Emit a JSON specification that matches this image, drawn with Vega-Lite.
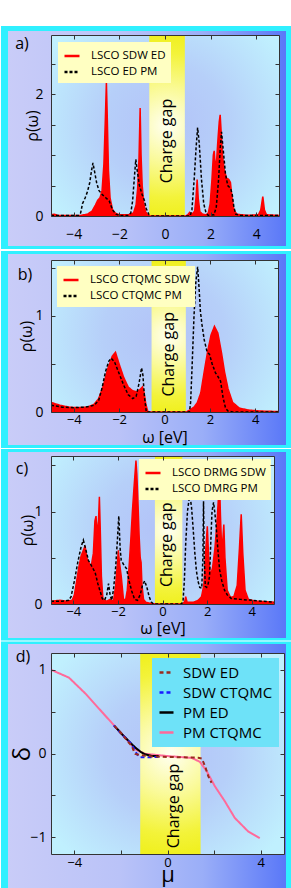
{
"$schema": "https://vega.github.io/schema/vega-lite/v6.json",
"background": "white",
"padding": 0,
"spacing": 0,
"resolve": {"scale": {"color": "independent", "strokeDash": "independent"}},
"config": {"font": "Open Sans", "view": {"stroke": null},
  "axis": {"grid": false, "domainColor": "#333333", "tickColor": "#333333", "labelColor": "#000000", "titleColor": "#000000", "titleFontWeight": "normal", "labelFlush": false, "labelOverlap": false, "tickSize": -4},
  "legend": {"labelColor": "#000000"}},
"datasets": {
 "a": [
  {"s":"LSCO SDW ED","w":-5,"r":0.02},{"s":"LSCO SDW ED","w":-4.85,"r":0.03},{"s":"LSCO SDW ED","w":-4.7,"r":0.01},{"s":"LSCO SDW ED","w":-4.2,"r":0.01},{"s":"LSCO SDW ED","w":-3.7,"r":0.01},{"s":"LSCO SDW ED","w":-3.4,"r":0.03},{"s":"LSCO SDW ED","w":-3.2,"r":0.08},{"s":"LSCO SDW ED","w":-3.05,"r":0.18},{"s":"LSCO SDW ED","w":-2.95,"r":0.26},{"s":"LSCO SDW ED","w":-2.85,"r":0.3},{"s":"LSCO SDW ED","w":-2.76,"r":0.42},{"s":"LSCO SDW ED","w":-2.68,"r":0.85},{"s":"LSCO SDW ED","w":-2.62,"r":1.55},{"s":"LSCO SDW ED","w":-2.57,"r":2.2},{"s":"LSCO SDW ED","w":-2.53,"r":1.6},{"s":"LSCO SDW ED","w":-2.48,"r":0.75},{"s":"LSCO SDW ED","w":-2.41,"r":0.3},{"s":"LSCO SDW ED","w":-2.3,"r":0.1},{"s":"LSCO SDW ED","w":-2.15,"r":0.04},{"s":"LSCO SDW ED","w":-2.0,"r":0.02},{"s":"LSCO SDW ED","w":-1.6,"r":0.02},{"s":"LSCO SDW ED","w":-1.38,"r":0.05},{"s":"LSCO SDW ED","w":-1.27,"r":0.18},{"s":"LSCO SDW ED","w":-1.2,"r":0.45},{"s":"LSCO SDW ED","w":-1.14,"r":0.95},{"s":"LSCO SDW ED","w":-1.09,"r":1.77},{"s":"LSCO SDW ED","w":-1.05,"r":1.0},{"s":"LSCO SDW ED","w":-1.0,"r":0.5},{"s":"LSCO SDW ED","w":-0.93,"r":0.2},{"s":"LSCO SDW ED","w":-0.85,"r":0.07},{"s":"LSCO SDW ED","w":-0.76,"r":0.02},{"s":"LSCO SDW ED","w":-0.68,"r":0},{"s":"LSCO SDW ED","w":0.9,"r":0},{"s":"LSCO SDW ED","w":1.0,"r":0.02},{"s":"LSCO SDW ED","w":1.08,"r":0.06},{"s":"LSCO SDW ED","w":1.18,"r":0.03},{"s":"LSCO SDW ED","w":1.3,"r":0.08},{"s":"LSCO SDW ED","w":1.36,"r":0.3},{"s":"LSCO SDW ED","w":1.41,"r":0.6},{"s":"LSCO SDW ED","w":1.46,"r":0.28},{"s":"LSCO SDW ED","w":1.53,"r":0.07},{"s":"LSCO SDW ED","w":1.65,"r":0.03},{"s":"LSCO SDW ED","w":1.8,"r":0.02},{"s":"LSCO SDW ED","w":1.9,"r":0.05},{"s":"LSCO SDW ED","w":1.98,"r":0.2},{"s":"LSCO SDW ED","w":2.06,"r":0.6},{"s":"LSCO SDW ED","w":2.12,"r":1.0},{"s":"LSCO SDW ED","w":2.16,"r":1.07},{"s":"LSCO SDW ED","w":2.21,"r":0.75},{"s":"LSCO SDW ED","w":2.27,"r":0.95},{"s":"LSCO SDW ED","w":2.33,"r":1.3},{"s":"LSCO SDW ED","w":2.38,"r":1.55},{"s":"LSCO SDW ED","w":2.42,"r":1.66},{"s":"LSCO SDW ED","w":2.46,"r":1.4},{"s":"LSCO SDW ED","w":2.52,"r":1.0},{"s":"LSCO SDW ED","w":2.6,"r":0.75},{"s":"LSCO SDW ED","w":2.7,"r":0.62},{"s":"LSCO SDW ED","w":2.8,"r":0.6},{"s":"LSCO SDW ED","w":2.87,"r":0.55},{"s":"LSCO SDW ED","w":2.94,"r":0.3},{"s":"LSCO SDW ED","w":3.02,"r":0.1},{"s":"LSCO SDW ED","w":3.15,"r":0.03},{"s":"LSCO SDW ED","w":3.6,"r":0.01},{"s":"LSCO SDW ED","w":4.1,"r":0.02},{"s":"LSCO SDW ED","w":4.2,"r":0.1},{"s":"LSCO SDW ED","w":4.29,"r":0.32},{"s":"LSCO SDW ED","w":4.36,"r":0.1},{"s":"LSCO SDW ED","w":4.45,"r":0.02},{"s":"LSCO SDW ED","w":5,"r":0.01},
  {"s":"LSCO ED PM","w":-5,"r":0.01},{"s":"LSCO ED PM","w":-3.8,"r":0.01},{"s":"LSCO ED PM","w":-3.7,"r":0.05},{"s":"LSCO ED PM","w":-3.62,"r":0.2},{"s":"LSCO ED PM","w":-3.5,"r":0.3},{"s":"LSCO ED PM","w":-3.4,"r":0.4},{"s":"LSCO ED PM","w":-3.3,"r":0.55},{"s":"LSCO ED PM","w":-3.22,"r":0.75},{"s":"LSCO ED PM","w":-3.16,"r":0.87},{"s":"LSCO ED PM","w":-3.1,"r":0.75},{"s":"LSCO ED PM","w":-3.0,"r":0.55},{"s":"LSCO ED PM","w":-2.9,"r":0.42},{"s":"LSCO ED PM","w":-2.75,"r":0.35},{"s":"LSCO ED PM","w":-2.6,"r":0.3},{"s":"LSCO ED PM","w":-2.45,"r":0.25},{"s":"LSCO ED PM","w":-2.3,"r":0.1},{"s":"LSCO ED PM","w":-2.15,"r":0.03},{"s":"LSCO ED PM","w":-2.0,"r":0.01},{"s":"LSCO ED PM","w":-1.6,"r":0.01},{"s":"LSCO ED PM","w":-1.5,"r":0.05},{"s":"LSCO ED PM","w":-1.42,"r":0.25},{"s":"LSCO ED PM","w":-1.35,"r":0.6},{"s":"LSCO ED PM","w":-1.28,"r":0.93},{"s":"LSCO ED PM","w":-1.22,"r":0.75},{"s":"LSCO ED PM","w":-1.12,"r":0.5},{"s":"LSCO ED PM","w":-1.0,"r":0.35},{"s":"LSCO ED PM","w":-0.9,"r":0.25},{"s":"LSCO ED PM","w":-0.82,"r":0.12},{"s":"LSCO ED PM","w":-0.7,"r":0.02},{"s":"LSCO ED PM","w":-0.6,"r":0},{"s":"LSCO ED PM","w":1.1,"r":0},{"s":"LSCO ED PM","w":1.18,"r":0.1},{"s":"LSCO ED PM","w":1.28,"r":0.6},{"s":"LSCO ED PM","w":1.36,"r":1.1},{"s":"LSCO ED PM","w":1.43,"r":1.45},{"s":"LSCO ED PM","w":1.5,"r":1.2},{"s":"LSCO ED PM","w":1.6,"r":0.6},{"s":"LSCO ED PM","w":1.7,"r":0.2},{"s":"LSCO ED PM","w":1.8,"r":0.05},{"s":"LSCO ED PM","w":1.9,"r":0.01},{"s":"LSCO ED PM","w":2.15,"r":0.02},{"s":"LSCO ED PM","w":2.25,"r":0.15},{"s":"LSCO ED PM","w":2.35,"r":0.6},{"s":"LSCO ED PM","w":2.42,"r":1.1},{"s":"LSCO ED PM","w":2.48,"r":1.38},{"s":"LSCO ED PM","w":2.55,"r":1.1},{"s":"LSCO ED PM","w":2.65,"r":0.7},{"s":"LSCO ED PM","w":2.75,"r":0.5},{"s":"LSCO ED PM","w":2.88,"r":0.45},{"s":"LSCO ED PM","w":2.95,"r":0.35},{"s":"LSCO ED PM","w":3.02,"r":0.15},{"s":"LSCO ED PM","w":3.1,"r":0.03},{"s":"LSCO ED PM","w":3.3,"r":0.01},{"s":"LSCO ED PM","w":5,"r":0.01}
 ],
 "b": [
  {"s":"LSCO CTQMC SDW","w":-5,"r":0.1},{"s":"LSCO CTQMC SDW","w":-4.6,"r":0.07},{"s":"LSCO CTQMC SDW","w":-4.2,"r":0.05},{"s":"LSCO CTQMC SDW","w":-3.8,"r":0.045},{"s":"LSCO CTQMC SDW","w":-3.4,"r":0.05},{"s":"LSCO CTQMC SDW","w":-3.1,"r":0.08},{"s":"LSCO CTQMC SDW","w":-2.9,"r":0.14},{"s":"LSCO CTQMC SDW","w":-2.7,"r":0.27},{"s":"LSCO CTQMC SDW","w":-2.5,"r":0.45},{"s":"LSCO CTQMC SDW","w":-2.3,"r":0.58},{"s":"LSCO CTQMC SDW","w":-2.16,"r":0.62},{"s":"LSCO CTQMC SDW","w":-2.0,"r":0.5},{"s":"LSCO CTQMC SDW","w":-1.8,"r":0.36},{"s":"LSCO CTQMC SDW","w":-1.6,"r":0.26},{"s":"LSCO CTQMC SDW","w":-1.4,"r":0.22},{"s":"LSCO CTQMC SDW","w":-1.2,"r":0.21},{"s":"LSCO CTQMC SDW","w":-1.05,"r":0.24},{"s":"LSCO CTQMC SDW","w":-0.97,"r":0.26},{"s":"LSCO CTQMC SDW","w":-0.9,"r":0.2},{"s":"LSCO CTQMC SDW","w":-0.82,"r":0.08},{"s":"LSCO CTQMC SDW","w":-0.73,"r":0},{"s":"LSCO CTQMC SDW","w":0.95,"r":0},{"s":"LSCO CTQMC SDW","w":1.1,"r":0.02},{"s":"LSCO CTQMC SDW","w":1.3,"r":0.05},{"s":"LSCO CTQMC SDW","w":1.45,"r":0.1},{"s":"LSCO CTQMC SDW","w":1.6,"r":0.2},{"s":"LSCO CTQMC SDW","w":1.75,"r":0.42},{"s":"LSCO CTQMC SDW","w":1.9,"r":0.63},{"s":"LSCO CTQMC SDW","w":2.05,"r":0.8},{"s":"LSCO CTQMC SDW","w":2.2,"r":0.89},{"s":"LSCO CTQMC SDW","w":2.35,"r":0.82},{"s":"LSCO CTQMC SDW","w":2.5,"r":0.63},{"s":"LSCO CTQMC SDW","w":2.65,"r":0.41},{"s":"LSCO CTQMC SDW","w":2.8,"r":0.24},{"s":"LSCO CTQMC SDW","w":3.0,"r":0.1},{"s":"LSCO CTQMC SDW","w":3.3,"r":0.04},{"s":"LSCO CTQMC SDW","w":3.7,"r":0.02},{"s":"LSCO CTQMC SDW","w":4.2,"r":0.01},{"s":"LSCO CTQMC SDW","w":5,"r":0.005},
  {"s":"LSCO CTQMC PM","w":-5,"r":0.07},{"s":"LSCO CTQMC PM","w":-4.5,"r":0.05},{"s":"LSCO CTQMC PM","w":-4,"r":0.045},{"s":"LSCO CTQMC PM","w":-3.5,"r":0.05},{"s":"LSCO CTQMC PM","w":-3.1,"r":0.07},{"s":"LSCO CTQMC PM","w":-2.9,"r":0.12},{"s":"LSCO CTQMC PM","w":-2.75,"r":0.25},{"s":"LSCO CTQMC PM","w":-2.6,"r":0.42},{"s":"LSCO CTQMC PM","w":-2.45,"r":0.53},{"s":"LSCO CTQMC PM","w":-2.35,"r":0.56},{"s":"LSCO CTQMC PM","w":-2.2,"r":0.52},{"s":"LSCO CTQMC PM","w":-2.0,"r":0.4},{"s":"LSCO CTQMC PM","w":-1.8,"r":0.28},{"s":"LSCO CTQMC PM","w":-1.6,"r":0.18},{"s":"LSCO CTQMC PM","w":-1.4,"r":0.14},{"s":"LSCO CTQMC PM","w":-1.25,"r":0.16},{"s":"LSCO CTQMC PM","w":-1.12,"r":0.3},{"s":"LSCO CTQMC PM","w":-1.01,"r":0.46},{"s":"LSCO CTQMC PM","w":-0.95,"r":0.38},{"s":"LSCO CTQMC PM","w":-0.88,"r":0.15},{"s":"LSCO CTQMC PM","w":-0.8,"r":0},{"s":"LSCO CTQMC PM","w":1.1,"r":0},{"s":"LSCO CTQMC PM","w":1.15,"r":0.1},{"s":"LSCO CTQMC PM","w":1.22,"r":0.5},{"s":"LSCO CTQMC PM","w":1.3,"r":1.0},{"s":"LSCO CTQMC PM","w":1.38,"r":1.35},{"s":"LSCO CTQMC PM","w":1.46,"r":1.51},{"s":"LSCO CTQMC PM","w":1.52,"r":1.3},{"s":"LSCO CTQMC PM","w":1.58,"r":1.05},{"s":"LSCO CTQMC PM","w":1.65,"r":0.91},{"s":"LSCO CTQMC PM","w":1.75,"r":0.75},{"s":"LSCO CTQMC PM","w":1.88,"r":0.62},{"s":"LSCO CTQMC PM","w":1.98,"r":0.6},{"s":"LSCO CTQMC PM","w":2.1,"r":0.5},{"s":"LSCO CTQMC PM","w":2.24,"r":0.41},{"s":"LSCO CTQMC PM","w":2.35,"r":0.37},{"s":"LSCO CTQMC PM","w":2.47,"r":0.32},{"s":"LSCO CTQMC PM","w":2.58,"r":0.15},{"s":"LSCO CTQMC PM","w":2.69,"r":0.04},{"s":"LSCO CTQMC PM","w":2.8,"r":0.01},{"s":"LSCO CTQMC PM","w":3,"r":0},{"s":"LSCO CTQMC PM","w":5,"r":0}
 ],
 "c": [
  {"s":"LSCO DRMG SDW","w":-5,"r":0.03},{"s":"LSCO DRMG SDW","w":-4.6,"r":0.04},{"s":"LSCO DRMG SDW","w":-4.3,"r":0.03},{"s":"LSCO DRMG SDW","w":-4.05,"r":0.04},{"s":"LSCO DRMG SDW","w":-3.95,"r":0.1},{"s":"LSCO DRMG SDW","w":-3.85,"r":0.25},{"s":"LSCO DRMG SDW","w":-3.75,"r":0.4},{"s":"LSCO DRMG SDW","w":-3.65,"r":0.52},{"s":"LSCO DRMG SDW","w":-3.55,"r":0.58},{"s":"LSCO DRMG SDW","w":-3.47,"r":0.63},{"s":"LSCO DRMG SDW","w":-3.4,"r":0.5},{"s":"LSCO DRMG SDW","w":-3.3,"r":0.45},{"s":"LSCO DRMG SDW","w":-3.2,"r":0.4},{"s":"LSCO DRMG SDW","w":-3.1,"r":0.55},{"s":"LSCO DRMG SDW","w":-3.03,"r":0.9},{"s":"LSCO DRMG SDW","w":-2.98,"r":0.95},{"s":"LSCO DRMG SDW","w":-2.93,"r":0.75},{"s":"LSCO DRMG SDW","w":-2.87,"r":0.9},{"s":"LSCO DRMG SDW","w":-2.83,"r":1.16},{"s":"LSCO DRMG SDW","w":-2.79,"r":0.8},{"s":"LSCO DRMG SDW","w":-2.74,"r":0.3},{"s":"LSCO DRMG SDW","w":-2.67,"r":0.05},{"s":"LSCO DRMG SDW","w":-2.5,"r":0.03},{"s":"LSCO DRMG SDW","w":-2.35,"r":0.05},{"s":"LSCO DRMG SDW","w":-2.2,"r":0.03},{"s":"LSCO DRMG SDW","w":-2.1,"r":0.2},{"s":"LSCO DRMG SDW","w":-2.02,"r":0.45},{"s":"LSCO DRMG SDW","w":-1.98,"r":0.58},{"s":"LSCO DRMG SDW","w":-1.93,"r":0.45},{"s":"LSCO DRMG SDW","w":-1.85,"r":0.3},{"s":"LSCO DRMG SDW","w":-1.75,"r":0.05},{"s":"LSCO DRMG SDW","w":-1.65,"r":0.05},{"s":"LSCO DRMG SDW","w":-1.58,"r":0.15},{"s":"LSCO DRMG SDW","w":-1.5,"r":0.4},{"s":"LSCO DRMG SDW","w":-1.42,"r":0.7},{"s":"LSCO DRMG SDW","w":-1.35,"r":1.0},{"s":"LSCO DRMG SDW","w":-1.28,"r":1.25},{"s":"LSCO DRMG SDW","w":-1.22,"r":1.45},{"s":"LSCO DRMG SDW","w":-1.19,"r":1.55},{"s":"LSCO DRMG SDW","w":-1.15,"r":1.4},{"s":"LSCO DRMG SDW","w":-1.1,"r":1.1},{"s":"LSCO DRMG SDW","w":-1.05,"r":0.75},{"s":"LSCO DRMG SDW","w":-1.0,"r":0.5},{"s":"LSCO DRMG SDW","w":-0.96,"r":0.45},{"s":"LSCO DRMG SDW","w":-0.92,"r":0.2},{"s":"LSCO DRMG SDW","w":-0.85,"r":0.05},{"s":"LSCO DRMG SDW","w":-0.75,"r":0.02},{"s":"LSCO DRMG SDW","w":-0.6,"r":0.01},{"s":"LSCO DRMG SDW","w":-0.34,"r":0},{"s":"LSCO DRMG SDW","w":0.9,"r":0},{"s":"LSCO DRMG SDW","w":1.0,"r":0.03},{"s":"LSCO DRMG SDW","w":1.04,"r":0.08},{"s":"LSCO DRMG SDW","w":1.1,"r":0.02},{"s":"LSCO DRMG SDW","w":1.4,"r":0.02},{"s":"LSCO DRMG SDW","w":1.6,"r":0.04},{"s":"LSCO DRMG SDW","w":1.75,"r":0.08},{"s":"LSCO DRMG SDW","w":1.85,"r":0.2},{"s":"LSCO DRMG SDW","w":1.93,"r":0.55},{"s":"LSCO DRMG SDW","w":2.01,"r":0.84},{"s":"LSCO DRMG SDW","w":2.07,"r":0.5},{"s":"LSCO DRMG SDW","w":2.15,"r":0.3},{"s":"LSCO DRMG SDW","w":2.25,"r":0.4},{"s":"LSCO DRMG SDW","w":2.35,"r":0.6},{"s":"LSCO DRMG SDW","w":2.45,"r":0.9},{"s":"LSCO DRMG SDW","w":2.52,"r":1.2},{"s":"LSCO DRMG SDW","w":2.56,"r":1.3},{"s":"LSCO DRMG SDW","w":2.6,"r":0.95},{"s":"LSCO DRMG SDW","w":2.66,"r":0.55},{"s":"LSCO DRMG SDW","w":2.72,"r":0.75},{"s":"LSCO DRMG SDW","w":2.75,"r":0.86},{"s":"LSCO DRMG SDW","w":2.8,"r":0.5},{"s":"LSCO DRMG SDW","w":2.9,"r":0.15},{"s":"LSCO DRMG SDW","w":3.05,"r":0.07},{"s":"LSCO DRMG SDW","w":3.2,"r":0.08},{"s":"LSCO DRMG SDW","w":3.35,"r":0.2},{"s":"LSCO DRMG SDW","w":3.45,"r":0.6},{"s":"LSCO DRMG SDW","w":3.53,"r":0.97},{"s":"LSCO DRMG SDW","w":3.6,"r":0.55},{"s":"LSCO DRMG SDW","w":3.7,"r":0.15},{"s":"LSCO DRMG SDW","w":3.85,"r":0.05},{"s":"LSCO DRMG SDW","w":4.2,"r":0.03},{"s":"LSCO DRMG SDW","w":5,"r":0.02},
  {"s":"LSCO DMRG PM","w":-5,"r":0.03},{"s":"LSCO DMRG PM","w":-4.5,"r":0.03},{"s":"LSCO DMRG PM","w":-4.2,"r":0.04},{"s":"LSCO DMRG PM","w":-4.1,"r":0.08},{"s":"LSCO DMRG PM","w":-3.95,"r":0.25},{"s":"LSCO DMRG PM","w":-3.8,"r":0.45},{"s":"LSCO DMRG PM","w":-3.65,"r":0.62},{"s":"LSCO DMRG PM","w":-3.55,"r":0.69},{"s":"LSCO DMRG PM","w":-3.45,"r":0.6},{"s":"LSCO DMRG PM","w":-3.32,"r":0.47},{"s":"LSCO DMRG PM","w":-3.2,"r":0.42},{"s":"LSCO DMRG PM","w":-3.02,"r":0.34},{"s":"LSCO DMRG PM","w":-2.9,"r":0.22},{"s":"LSCO DMRG PM","w":-2.8,"r":0.14},{"s":"LSCO DMRG PM","w":-2.7,"r":0.06},{"s":"LSCO DMRG PM","w":-2.6,"r":0.04},{"s":"LSCO DMRG PM","w":-2.5,"r":0.1},{"s":"LSCO DMRG PM","w":-2.42,"r":0.22},{"s":"LSCO DMRG PM","w":-2.35,"r":0.1},{"s":"LSCO DMRG PM","w":-2.28,"r":0.04},{"s":"LSCO DMRG PM","w":-2.2,"r":0.15},{"s":"LSCO DMRG PM","w":-2.1,"r":0.4},{"s":"LSCO DMRG PM","w":-2.02,"r":0.7},{"s":"LSCO DMRG PM","w":-1.96,"r":0.95},{"s":"LSCO DMRG PM","w":-1.9,"r":0.6},{"s":"LSCO DMRG PM","w":-1.85,"r":0.47},{"s":"LSCO DMRG PM","w":-1.75,"r":0.43},{"s":"LSCO DMRG PM","w":-1.61,"r":0.38},{"s":"LSCO DMRG PM","w":-1.5,"r":0.25},{"s":"LSCO DMRG PM","w":-1.38,"r":0.14},{"s":"LSCO DMRG PM","w":-1.25,"r":0.05},{"s":"LSCO DMRG PM","w":-1.12,"r":0.04},{"s":"LSCO DMRG PM","w":-1.0,"r":0.1},{"s":"LSCO DMRG PM","w":-0.9,"r":0.2},{"s":"LSCO DMRG PM","w":-0.8,"r":0.25},{"s":"LSCO DMRG PM","w":-0.7,"r":0.18},{"s":"LSCO DMRG PM","w":-0.6,"r":0.08},{"s":"LSCO DMRG PM","w":-0.5,"r":0.02},{"s":"LSCO DMRG PM","w":-0.4,"r":0},{"s":"LSCO DMRG PM","w":0.85,"r":0},{"s":"LSCO DMRG PM","w":0.92,"r":0.03},{"s":"LSCO DMRG PM","w":0.98,"r":0.25},{"s":"LSCO DMRG PM","w":1.04,"r":0.65},{"s":"LSCO DMRG PM","w":1.12,"r":1.0},{"s":"LSCO DMRG PM","w":1.22,"r":1.19},{"s":"LSCO DMRG PM","w":1.3,"r":1.05},{"s":"LSCO DMRG PM","w":1.37,"r":0.83},{"s":"LSCO DMRG PM","w":1.45,"r":0.55},{"s":"LSCO DMRG PM","w":1.52,"r":0.36},{"s":"LSCO DMRG PM","w":1.6,"r":0.24},{"s":"LSCO DMRG PM","w":1.67,"r":0.18},{"s":"LSCO DMRG PM","w":1.76,"r":0.17},{"s":"LSCO DMRG PM","w":1.81,"r":0.5},{"s":"LSCO DMRG PM","w":1.84,"r":1.11},{"s":"LSCO DMRG PM","w":1.87,"r":0.5},{"s":"LSCO DMRG PM","w":1.92,"r":0.19},{"s":"LSCO DMRG PM","w":1.98,"r":0.18},{"s":"LSCO DMRG PM","w":2.05,"r":0.22},{"s":"LSCO DMRG PM","w":2.11,"r":0.3},{"s":"LSCO DMRG PM","w":2.17,"r":0.7},{"s":"LSCO DMRG PM","w":2.22,"r":1.0},{"s":"LSCO DMRG PM","w":2.29,"r":1.1},{"s":"LSCO DMRG PM","w":2.35,"r":0.98},{"s":"LSCO DMRG PM","w":2.41,"r":0.83},{"s":"LSCO DMRG PM","w":2.48,"r":0.6},{"s":"LSCO DMRG PM","w":2.56,"r":0.37},{"s":"LSCO DMRG PM","w":2.66,"r":0.25},{"s":"LSCO DMRG PM","w":2.78,"r":0.15},{"s":"LSCO DMRG PM","w":2.9,"r":0.1},{"s":"LSCO DMRG PM","w":3.08,"r":0.06},{"s":"LSCO DMRG PM","w":3.5,"r":0.05},{"s":"LSCO DMRG PM","w":4.0,"r":0.04},{"s":"LSCO DMRG PM","w":4.5,"r":0.03},{"s":"LSCO DMRG PM","w":5,"r":0.02}
 ],
 "d": [
  {"s":"PM CTQMC","mu":-5,"dl":1.0},{"s":"PM CTQMC","mu":-4.23,"dl":0.906},{"s":"PM CTQMC","mu":-3.52,"dl":0.715},{"s":"PM CTQMC","mu":-2.81,"dl":0.495},{"s":"PM CTQMC","mu":-2.24,"dl":0.319},{"s":"PM CTQMC","mu":-1.81,"dl":0.188},{"s":"PM CTQMC","mu":-1.38,"dl":0.048},{"s":"PM CTQMC","mu":-0.96,"dl":-0.004},{"s":"PM CTQMC","mu":0.06,"dl":-0.032},{"s":"PM CTQMC","mu":1.04,"dl":-0.052},{"s":"PM CTQMC","mu":1.39,"dl":-0.1},{"s":"PM CTQMC","mu":1.68,"dl":-0.21},{"s":"PM CTQMC","mu":2.03,"dl":-0.39},{"s":"PM CTQMC","mu":2.46,"dl":-0.57},{"s":"PM CTQMC","mu":2.89,"dl":-0.77},{"s":"PM CTQMC","mu":3.46,"dl":-0.93},{"s":"PM CTQMC","mu":3.96,"dl":-1.01},
  {"s":"PM ED","mu":-2.28,"dl":0.33},{"s":"PM ED","mu":-1.95,"dl":0.23},{"s":"PM ED","mu":-1.6,"dl":0.13},{"s":"PM ED","mu":-1.38,"dl":0.07},{"s":"PM ED","mu":-1.15,"dl":0.02},{"s":"PM ED","mu":-0.96,"dl":-0.01},{"s":"PM ED","mu":-0.67,"dl":-0.03},{"s":"PM ED","mu":-0.38,"dl":-0.03},
  {"s":"SDW CTQMC","mu":-2.31,"dl":0.335},{"s":"SDW CTQMC","mu":-1.95,"dl":0.225},{"s":"SDW CTQMC","mu":-1.6,"dl":0.13},{"s":"SDW CTQMC","mu":-1.42,"dl":0.05},{"s":"SDW CTQMC","mu":-1.31,"dl":-0.01},{"s":"SDW CTQMC","mu":-1.17,"dl":-0.044},{"s":"SDW CTQMC","mu":-0.67,"dl":-0.044},{"s":"SDW CTQMC","mu":-0.35,"dl":-0.04},
  {"s":"SDW ED","mu":-2.28,"dl":0.33},{"s":"SDW ED","mu":-1.95,"dl":0.23},{"s":"SDW ED","mu":-1.72,"dl":0.15},{"s":"SDW ED","mu":-1.53,"dl":0.09},{"s":"SDW ED","mu":-1.45,"dl":0.03},{"s":"SDW ED","mu":-1.38,"dl":-0.005},{"s":"SDW ED","mu":-1.17,"dl":-0.02},{"s":"SDW ED","mu":-0.67,"dl":-0.035},{"s":"SDW ED","mu":0.5,"dl":-0.045},{"s":"SDW ED","mu":1.32,"dl":-0.05},{"s":"SDW ED","mu":1.47,"dl":-0.06},{"s":"SDW ED","mu":1.61,"dl":-0.15},{"s":"SDW ED","mu":1.75,"dl":-0.27},{"s":"SDW ED","mu":1.89,"dl":-0.35}
 ]
},
"vconcat": [
 {
  "width": 228, "height": 181,
  "resolve": {"scale": {"x": "independent", "y": "independent"}},
  "layer": [
   {"data": {"values": [{}]}, "mark": {"type": "rect", "fill": "white", "clip": false},
    "encoding": {"x": {"datum": -7.193, "type": "quantitative", "scale": {"domain": [-5, 5], "nice": false, "zero": false}, "axis": null}, "x2": {"datum": 5.570},
                 "y": {"datum": 3.118, "type": "quantitative", "scale": {"domain": [0, 2.97], "nice": false, "zero": false}, "axis": null}, "y2": {"datum": 3.528}}},
   {"data": {"values": [{}]}, "mark": {"type": "rect", "fill": "#30F0FF", "clip": false},
    "encoding": {"x": {"datum": -7.193, "type": "quantitative", "scale": {"domain": [-5, 5], "nice": false, "zero": false}, "axis": null}, "x2": {"datum": 5.570},
                 "y": {"datum": -0.5415, "type": "quantitative", "scale": {"domain": [0, 2.97], "nice": false, "zero": false}, "axis": null}, "y2": {"datum": 3.118}}},
   {"data": {"values": [{}]}, "mark": {"type": "rect", "clip": false, "fill": {"gradient": "linear", "x1": 0, "y1": 0, "x2": 1, "y2": 0, "stops": [{"offset": 0, "color": "#C9CCF8"}, {"offset": 0.4, "color": "#BAC3F8"}, {"offset": 0.7, "color": "#9AAEF8"}, {"offset": 1, "color": "#5A78F8"}]}},
    "encoding": {"x": {"datum": -6.886, "type": "quantitative", "scale": {"domain": [-5, 5], "nice": false, "zero": false},
                       "axis": {"orient": "bottom", "values": [-4, -2, 0, 2, 4], "format": "~g", "title": null, "labelPadding": 15, "labelFontSize": 14, "zindex": 1}}, "x2": {"datum": 5.307},
                 "y": {"datum": -0.4923, "type": "quantitative", "scale": {"domain": [0, 2.97], "nice": false, "zero": false},
                       "axis": {"orient": "left", "values": [0, 0.5, 1, 1.5, 2, 2.5], "format": "~g", "labelExpr": "datum.value == 0 || datum.value == 2 ? datum.label : ''", "title": "ρ(ω)", "titleFontSize": 16, "titlePadding": -6, "labelPadding": 12, "labelFontSize": 14, "zindex": 1}}, "y2": {"datum": 3.036}}},
   {"data": {"values": [{}]}, "mark": {"type": "rect", "clip": false, "fill": {"gradient": "radial", "x1": 0.5, "y1": 0.5, "r1": 0, "x2": 0.5, "y2": 0.5, "r2": 0.6, "stops": [{"offset": 0, "color": "#B2C2F8"}, {"offset": 0.45, "color": "#B6CFF9"}, {"offset": 1, "color": "#C0F0FE"}]}},
    "encoding": {"x": {"datum": -5, "type": "quantitative", "scale": {"domain": [-5, 5], "nice": false, "zero": false},
                       "axis": {"orient": "top", "values": [-4, -2, 0, 2, 4], "labels": false, "title": null, "zindex": 1}}, "x2": {"datum": 5},
                 "y": {"datum": 0, "type": "quantitative", "scale": {"domain": [0, 2.97], "nice": false, "zero": false},
                       "axis": {"orient": "right", "values": [0.5, 1, 1.5, 2, 2.5], "labels": false, "title": null, "zindex": 1}}, "y2": {"datum": 2.97}}},
   {"data": {"values": [{}]}, "mark": {"type": "rect", "clip": false, "fill": {"gradient": "radial", "x1": 0.5, "y1": 0.5, "r1": 0, "x2": 0.5, "y2": 0.5, "r2": 0.5, "stops": [{"offset": 0, "color": "#FFFFF2"}, {"offset": 0.4, "color": "#FAFA9A"}, {"offset": 0.8, "color": "#F3F33A"}, {"offset": 1, "color": "#F0F020"}]}},
    "encoding": {"x": {"datum": -0.69, "type": "quantitative", "scale": {"domain": [-5, 5], "nice": false, "zero": false}, "axis": null}, "x2": {"datum": 0.87},
                 "y": {"datum": 0, "type": "quantitative", "scale": {"domain": [0, 2.97], "nice": false, "zero": false}, "axis": null}, "y2": {"datum": 2.97}}},
   {"data": {"values": [{}]}, "mark": {"type": "text", "text": "Charge gap", "angle": 270, "fontSize": 16, "align": "center", "baseline": "middle", "color": "black", "clip": false},
    "encoding": {"x": {"datum": 0.1, "type": "quantitative", "scale": {"domain": [-5, 5], "nice": false, "zero": false}, "axis": null},
                 "y": {"datum": 1.23, "type": "quantitative", "scale": {"domain": [0, 2.97], "nice": false, "zero": false}, "axis": null}}},
   {"data": {"values": [{}]}, "mark": {"type": "text", "text": "a)", "fontSize": 16, "align": "center", "baseline": "middle", "color": "black", "clip": false},
    "encoding": {"x": {"datum": -6.272, "type": "quantitative", "scale": {"domain": [-5, 5], "nice": false, "zero": false}, "axis": null},
                 "y": {"datum": 2.822, "type": "quantitative", "scale": {"domain": [0, 2.97], "nice": false, "zero": false}, "axis": null}}},
   {"data": {"name": "a"}, "transform": [{"filter": "datum.s == 'LSCO SDW ED'"}], "mark": {"type": "area", "color": "#FF0000", "clip": true},
    "encoding": {"x": {"field": "w", "type": "quantitative", "scale": {"domain": [-5, 5], "nice": false, "zero": false}, "axis": null},
                 "y": {"field": "r", "type": "quantitative", "scale": {"domain": [0, 2.97], "nice": false, "zero": false}, "axis": null}}},
   {"data": {"name": "a"}, "mark": {"type": "line", "strokeWidth": 1.5, "clip": true},
    "encoding": {"x": {"field": "w", "type": "quantitative", "scale": {"domain": [-5, 5], "nice": false, "zero": false}, "axis": null},
                 "y": {"field": "r", "type": "quantitative", "scale": {"domain": [0, 2.97], "nice": false, "zero": false}, "axis": null},
                 "color": {"field": "s", "type": "nominal", "scale": {"domain": ["LSCO SDW ED", "LSCO ED PM"], "range": ["#FF0000", "#000000"]},
                           "legend": {"title": null, "orient": "top-left", "offset": 7, "fillColor": "#FFFFC2", "padding": 5, "symbolType": "stroke", "symbolSize": 225, "symbolStrokeWidth": 2.5, "labelFontSize": 11.5, "rowPadding": 1, "labelOffset": 10}},
                 "strokeDash": {"field": "s", "type": "nominal", "scale": {"domain": ["LSCO SDW ED", "LSCO ED PM"], "range": [[1, 0], [3, 2]]},
                           "legend": {"title": null, "orient": "top-left", "offset": 7, "fillColor": "#FFFFC2", "padding": 5, "symbolType": "stroke", "symbolSize": 225, "symbolStrokeWidth": 2.5, "labelFontSize": 11.5, "rowPadding": 1, "labelOffset": 10}}}}
  ]
 },
 {
  "width": 227, "height": 152,
  "resolve": {"scale": {"x": "independent", "y": "independent"}},
  "layer": [
   {"data": {"values": [{}]}, "mark": {"type": "rect", "fill": "#30F0FF", "clip": false},
    "encoding": {"x": {"datum": -7.2026, "type": "quantitative", "scale": {"domain": [-5, 5], "nice": false, "zero": false}, "axis": null}, "x2": {"datum": 5.6167},
                 "y": {"datum": -0.3742, "type": "quantitative", "scale": {"domain": [0, 1.58], "nice": false, "zero": false}, "axis": null}, "y2": {"datum": 1.6736}}},
   {"data": {"values": [{}]}, "mark": {"type": "rect", "clip": false, "fill": {"gradient": "linear", "x1": 0, "y1": 0, "x2": 1, "y2": 0, "stops": [{"offset": 0, "color": "#C9CCF8"}, {"offset": 0.4, "color": "#BAC3F8"}, {"offset": 0.7, "color": "#9AAEF8"}, {"offset": 1, "color": "#5A78F8"}]}},
    "encoding": {"x": {"datum": -6.8943, "type": "quantitative", "scale": {"domain": [-5, 5], "nice": false, "zero": false},
                       "axis": {"orient": "bottom", "values": [-4, -2, 0, 2, 4], "format": "~g", "title": "ω [eV]", "titleFontSize": 16, "titlePadding": 3, "labelPadding": 5, "labelFontSize": 13, "zindex": 1}}, "x2": {"datum": 5.3524},
                 "y": {"datum": -0.3430, "type": "quantitative", "scale": {"domain": [0, 1.58], "nice": false, "zero": false},
                       "axis": {"orient": "left", "values": [0, 0.5, 1, 1.5], "format": "~g", "labelExpr": "datum.value == 0 || datum.value == 1 ? datum.label : ''", "title": "ρ(ω)", "titleFontSize": 16, "titlePadding": 0, "labelPadding": 12, "labelFontSize": 14, "zindex": 1}}, "y2": {"datum": 1.6424}}},
   {"data": {"values": [{}]}, "mark": {"type": "rect", "clip": false, "fill": {"gradient": "radial", "x1": 0.5, "y1": 0.5, "r1": 0, "x2": 0.5, "y2": 0.5, "r2": 0.6, "stops": [{"offset": 0, "color": "#B2C2F8"}, {"offset": 0.45, "color": "#B6CFF9"}, {"offset": 1, "color": "#C0F0FE"}]}},
    "encoding": {"x": {"datum": -5, "type": "quantitative", "scale": {"domain": [-5, 5], "nice": false, "zero": false},
                       "axis": {"orient": "top", "values": [-4, -2, 0, 2, 4], "labels": false, "title": null, "zindex": 1}}, "x2": {"datum": 5},
                 "y": {"datum": 0, "type": "quantitative", "scale": {"domain": [0, 1.58], "nice": false, "zero": false},
                       "axis": {"orient": "right", "values": [0.5, 1, 1.5], "labels": false, "title": null, "zindex": 1}}, "y2": {"datum": 1.58}}},
   {"data": {"values": [{}]}, "mark": {"type": "rect", "clip": false, "fill": {"gradient": "radial", "x1": 0.5, "y1": 0.5, "r1": 0, "x2": 0.5, "y2": 0.5, "r2": 0.5, "stops": [{"offset": 0, "color": "#FFFFF2"}, {"offset": 0.4, "color": "#FAFA9A"}, {"offset": 0.8, "color": "#F3F33A"}, {"offset": 1, "color": "#F0F020"}]}},
    "encoding": {"x": {"datum": -0.57, "type": "quantitative", "scale": {"domain": [-5, 5], "nice": false, "zero": false}, "axis": null}, "x2": {"datum": 0.94},
                 "y": {"datum": 0, "type": "quantitative", "scale": {"domain": [0, 1.58], "nice": false, "zero": false}, "axis": null}, "y2": {"datum": 1.58}}},
   {"data": {"values": [{}]}, "mark": {"type": "text", "text": "Charge gap", "angle": 270, "fontSize": 16, "align": "center", "baseline": "middle", "color": "black", "clip": false},
    "encoding": {"x": {"datum": 0.19, "type": "quantitative", "scale": {"domain": [-5, 5], "nice": false, "zero": false}, "axis": null},
                 "y": {"datum": 0.6, "type": "quantitative", "scale": {"domain": [0, 1.58], "nice": false, "zero": false}, "axis": null}}},
   {"data": {"values": [{}]}, "mark": {"type": "text", "text": "b)", "fontSize": 16, "align": "center", "baseline": "middle", "color": "black", "clip": false},
    "encoding": {"x": {"datum": -6.145, "type": "quantitative", "scale": {"domain": [-5, 5], "nice": false, "zero": false}, "axis": null},
                 "y": {"datum": 1.427, "type": "quantitative", "scale": {"domain": [0, 1.58], "nice": false, "zero": false}, "axis": null}}},
   {"data": {"name": "b"}, "transform": [{"filter": "datum.s == 'LSCO CTQMC SDW'"}], "mark": {"type": "area", "color": "#FF0000", "clip": true},
    "encoding": {"x": {"field": "w", "type": "quantitative", "scale": {"domain": [-5, 5], "nice": false, "zero": false}, "axis": null},
                 "y": {"field": "r", "type": "quantitative", "scale": {"domain": [0, 1.58], "nice": false, "zero": false}, "axis": null}}},
   {"data": {"name": "b"}, "mark": {"type": "line", "strokeWidth": 1.5, "clip": true},
    "encoding": {"x": {"field": "w", "type": "quantitative", "scale": {"domain": [-5, 5], "nice": false, "zero": false}, "axis": null},
                 "y": {"field": "r", "type": "quantitative", "scale": {"domain": [0, 1.58], "nice": false, "zero": false}, "axis": null},
                 "color": {"field": "s", "type": "nominal", "scale": {"domain": ["LSCO CTQMC SDW", "LSCO CTQMC PM"], "range": ["#FF0000", "#000000"]},
                           "legend": {"title": null, "orient": "top-left", "offset": 6, "fillColor": "#FFFFC2", "padding": 5, "symbolType": "stroke", "symbolSize": 225, "symbolStrokeWidth": 2.5, "labelFontSize": 11.5, "rowPadding": 1, "labelOffset": 10}},
                 "strokeDash": {"field": "s", "type": "nominal", "scale": {"domain": ["LSCO CTQMC SDW", "LSCO CTQMC PM"], "range": [[1, 0], [3, 2]]},
                           "legend": {"title": null, "orient": "top-left", "offset": 6, "fillColor": "#FFFFC2", "padding": 5, "symbolType": "stroke", "symbolSize": 225, "symbolStrokeWidth": 2.5, "labelFontSize": 11.5, "rowPadding": 1, "labelOffset": 10}}}}
  ]
 },
 {
  "width": 223, "height": 148,
  "resolve": {"scale": {"x": "independent", "y": "independent"}},
  "layer": [
   {"data": {"values": [{}]}, "mark": {"type": "rect", "fill": "#30F0FF", "clip": false},
    "encoding": {"x": {"datum": -7.2422, "type": "quantitative", "scale": {"domain": [-5, 5], "nice": false, "zero": false}, "axis": null}, "x2": {"datum": 5.8072},
                 "y": {"datum": -0.3946, "type": "quantitative", "scale": {"domain": [0, 1.6], "nice": false, "zero": false}, "axis": null}, "y2": {"datum": 1.6757}}},
   {"data": {"values": [{}]}, "mark": {"type": "rect", "clip": false, "fill": {"gradient": "linear", "x1": 0, "y1": 0, "x2": 1, "y2": 0, "stops": [{"offset": 0, "color": "#C9CCF8"}, {"offset": 0.4, "color": "#BAC3F8"}, {"offset": 0.7, "color": "#9AAEF8"}, {"offset": 1, "color": "#5A78F8"}]}},
    "encoding": {"x": {"datum": -6.9283, "type": "quantitative", "scale": {"domain": [-5, 5], "nice": false, "zero": false},
                       "axis": {"orient": "bottom", "values": [-4, -2, 0, 2, 4], "format": "~g", "title": "ω [eV]", "titleFontSize": 16, "titlePadding": 2, "labelPadding": 5, "labelFontSize": 13, "zindex": 1}}, "x2": {"datum": 5.5381},
                 "y": {"datum": -0.3676, "type": "quantitative", "scale": {"domain": [0, 1.6], "nice": false, "zero": false},
                       "axis": {"orient": "left", "values": [0, 0.5, 1, 1.5], "format": "~g", "labelExpr": "datum.value == 0 || datum.value == 1 ? datum.label : ''", "title": "ρ(ω)", "titleFontSize": 16, "titlePadding": -2, "labelPadding": 13, "labelFontSize": 14, "zindex": 1}}, "y2": {"datum": 1.6432}}},
   {"data": {"values": [{}]}, "mark": {"type": "rect", "clip": false, "fill": {"gradient": "radial", "x1": 0.5, "y1": 0.5, "r1": 0, "x2": 0.5, "y2": 0.5, "r2": 0.6, "stops": [{"offset": 0, "color": "#B2C2F8"}, {"offset": 0.45, "color": "#B6CFF9"}, {"offset": 1, "color": "#C0F0FE"}]}},
    "encoding": {"x": {"datum": -5, "type": "quantitative", "scale": {"domain": [-5, 5], "nice": false, "zero": false},
                       "axis": {"orient": "top", "values": [-4, -2, 0, 2, 4], "labels": false, "title": null, "zindex": 1}}, "x2": {"datum": 5},
                 "y": {"datum": 0, "type": "quantitative", "scale": {"domain": [0, 1.6], "nice": false, "zero": false},
                       "axis": {"orient": "right", "values": [0.5, 1, 1.5], "labels": false, "title": null, "zindex": 1}}, "y2": {"datum": 1.6}}},
   {"data": {"values": [{}]}, "mark": {"type": "rect", "clip": false, "fill": {"gradient": "radial", "x1": 0.5, "y1": 0.5, "r1": 0, "x2": 0.5, "y2": 0.5, "r2": 0.5, "stops": [{"offset": 0, "color": "#FFFFF2"}, {"offset": 0.4, "color": "#FAFA9A"}, {"offset": 0.8, "color": "#F3F33A"}, {"offset": 1, "color": "#F0F020"}]}},
    "encoding": {"x": {"datum": -0.34, "type": "quantitative", "scale": {"domain": [-5, 5], "nice": false, "zero": false}, "axis": null}, "x2": {"datum": 0.89},
                 "y": {"datum": 0, "type": "quantitative", "scale": {"domain": [0, 1.6], "nice": false, "zero": false}, "axis": null}, "y2": {"datum": 1.6}}},
   {"data": {"values": [{}]}, "mark": {"type": "text", "text": "Charge gap", "angle": 270, "fontSize": 16, "align": "center", "baseline": "middle", "color": "black", "clip": false},
    "encoding": {"x": {"datum": 0.2, "type": "quantitative", "scale": {"domain": [-5, 5], "nice": false, "zero": false}, "axis": null},
                 "y": {"datum": 0.64, "type": "quantitative", "scale": {"domain": [0, 1.6], "nice": false, "zero": false}, "axis": null}}},
   {"data": {"values": [{}]}, "mark": {"type": "text", "text": "c)", "fontSize": 16, "align": "center", "baseline": "middle", "color": "black", "clip": false},
    "encoding": {"x": {"datum": -6.3, "type": "quantitative", "scale": {"domain": [-5, 5], "nice": false, "zero": false}, "axis": null},
                 "y": {"datum": 1.459, "type": "quantitative", "scale": {"domain": [0, 1.6], "nice": false, "zero": false}, "axis": null}}},
   {"data": {"name": "c"}, "transform": [{"filter": "datum.s == 'LSCO DRMG SDW'"}], "mark": {"type": "area", "color": "#FF0000", "clip": true},
    "encoding": {"x": {"field": "w", "type": "quantitative", "scale": {"domain": [-5, 5], "nice": false, "zero": false}, "axis": null},
                 "y": {"field": "r", "type": "quantitative", "scale": {"domain": [0, 1.6], "nice": false, "zero": false}, "axis": null}}},
   {"data": {"name": "c"}, "mark": {"type": "line", "strokeWidth": 1.5, "clip": true},
    "encoding": {"x": {"field": "w", "type": "quantitative", "scale": {"domain": [-5, 5], "nice": false, "zero": false}, "axis": null},
                 "y": {"field": "r", "type": "quantitative", "scale": {"domain": [0, 1.6], "nice": false, "zero": false}, "axis": null},
                 "color": {"field": "s", "type": "nominal", "scale": {"domain": ["LSCO DRMG SDW", "LSCO DMRG PM"], "range": ["#FF0000", "#000000"]},
                           "legend": {"title": null, "orient": "top-right", "offset": 3, "fillColor": "#FFFFC2", "padding": 5, "symbolType": "stroke", "symbolSize": 225, "symbolStrokeWidth": 2.5, "labelFontSize": 11.5, "rowPadding": 1, "labelOffset": 10}},
                 "strokeDash": {"field": "s", "type": "nominal", "scale": {"domain": ["LSCO DRMG SDW", "LSCO DMRG PM"], "range": [[1, 0], [3, 2]]},
                           "legend": {"title": null, "orient": "top-right", "offset": 3, "fillColor": "#FFFFC2", "padding": 5, "symbolType": "stroke", "symbolSize": 225, "symbolStrokeWidth": 2.5, "labelFontSize": 11.5, "rowPadding": 1, "labelOffset": 10}}}}
  ]
 },
 {
  "width": 233, "height": 201,
  "resolve": {"scale": {"x": "independent", "y": "independent"}},
  "layer": [
   {"data": {"values": [{}]}, "mark": {"type": "rect", "fill": "#30F0FF", "clip": false},
    "encoding": {"x": {"datum": -7.1459, "type": "quantitative", "scale": {"domain": [-5, 5], "nice": false, "zero": false}, "axis": null}, "x2": {"datum": 5.3433},
                 "y": {"datum": -1.6657, "type": "quantitative", "scale": {"domain": [-1.2, 1.2], "nice": false, "zero": false}, "axis": null}, "y2": {"datum": 1.3373}}},
   {"data": {"values": [{}]}, "mark": {"type": "rect", "clip": false, "fill": {"gradient": "linear", "x1": 0, "y1": 0, "x2": 1, "y2": 0, "stops": [{"offset": 0, "color": "#C9CCF8"}, {"offset": 0.4, "color": "#BAC3F8"}, {"offset": 0.7, "color": "#9AAEF8"}, {"offset": 1, "color": "#5A78F8"}]}},
    "encoding": {"x": {"datum": -6.8455, "type": "quantitative", "scale": {"domain": [-5, 5], "nice": false, "zero": false},
                       "axis": {"orient": "bottom", "values": [-4, -2, 0, 2, 4], "format": "~g", "labelExpr": "abs(datum.value) % 4 == 0 ? datum.label : ''", "title": "μ", "titleFontSize": 22, "titlePadding": -5, "labelPadding": 6, "labelFontSize": 13, "zindex": 1}}, "x2": {"datum": 5.0858},
                 "y": {"datum": -1.6060, "type": "quantitative", "scale": {"domain": [-1.2, 1.2], "nice": false, "zero": false},
                       "axis": {"orient": "left", "values": [-1, -0.5, 0, 0.5, 1], "format": "~g", "labelExpr": "abs(datum.value) % 1 == 0 ? datum.label : ''", "title": "δ", "titleFontSize": 24, "titlePadding": -5, "labelPadding": 9, "labelFontSize": 14, "zindex": 1}}, "y2": {"datum": 1.3075}}},
   {"data": {"values": [{}]}, "mark": {"type": "rect", "clip": false, "fill": {"gradient": "radial", "x1": 0.5, "y1": 0.5, "r1": 0, "x2": 0.5, "y2": 0.5, "r2": 0.6, "stops": [{"offset": 0, "color": "#B2C2F8"}, {"offset": 0.45, "color": "#B6CFF9"}, {"offset": 1, "color": "#C0F0FE"}]}},
    "encoding": {"x": {"datum": -5, "type": "quantitative", "scale": {"domain": [-5, 5], "nice": false, "zero": false},
                       "axis": {"orient": "top", "values": [-4, -2, 0, 2, 4], "labels": false, "title": null, "zindex": 1}}, "x2": {"datum": 5},
                 "y": {"datum": -1.2, "type": "quantitative", "scale": {"domain": [-1.2, 1.2], "nice": false, "zero": false},
                       "axis": {"orient": "right", "values": [-1, -0.5, 0, 0.5, 1], "labels": false, "title": null, "zindex": 1}}, "y2": {"datum": 1.2}}},
   {"data": {"values": [{}]}, "mark": {"type": "rect", "clip": false, "fill": {"gradient": "radial", "x1": 0.5, "y1": 0.5, "r1": 0, "x2": 0.5, "y2": 0.5, "r2": 0.5, "stops": [{"offset": 0, "color": "#FFFFF2"}, {"offset": 0.4, "color": "#FAFA9A"}, {"offset": 0.8, "color": "#F3F33A"}, {"offset": 1, "color": "#F0F020"}]}},
    "encoding": {"x": {"datum": -1.17, "type": "quantitative", "scale": {"domain": [-5, 5], "nice": false, "zero": false}, "axis": null}, "x2": {"datum": 1.42},
                 "y": {"datum": -1.2, "type": "quantitative", "scale": {"domain": [-1.2, 1.2], "nice": false, "zero": false}, "axis": null}, "y2": {"datum": 1.2}}},
   {"data": {"values": [{}]}, "mark": {"type": "text", "text": "Charge gap", "angle": 270, "fontSize": 16, "align": "center", "baseline": "middle", "color": "black", "clip": false},
    "encoding": {"x": {"datum": 0.28, "type": "quantitative", "scale": {"domain": [-5, 5], "nice": false, "zero": false}, "axis": null},
                 "y": {"datum": -0.627, "type": "quantitative", "scale": {"domain": [-1.2, 1.2], "nice": false, "zero": false}, "axis": null}}},
   {"data": {"values": [{}]}, "mark": {"type": "text", "text": "d)", "fontSize": 16, "align": "center", "baseline": "middle", "color": "black", "clip": false},
    "encoding": {"x": {"datum": -6.202, "type": "quantitative", "scale": {"domain": [-5, 5], "nice": false, "zero": false}, "axis": null},
                 "y": {"datum": 1.152, "type": "quantitative", "scale": {"domain": [-1.2, 1.2], "nice": false, "zero": false}, "axis": null}}},
   {"data": {"name": "d"}, "mark": {"type": "line", "strokeWidth": 2, "clip": true},
    "encoding": {"x": {"field": "mu", "type": "quantitative", "scale": {"domain": [-5, 5], "nice": false, "zero": false}, "axis": null},
                 "y": {"field": "dl", "type": "quantitative", "scale": {"domain": [-1.2, 1.2], "nice": false, "zero": false}, "axis": null},
                 "color": {"field": "s", "type": "nominal", "scale": {"domain": ["SDW ED", "SDW CTQMC", "PM ED", "PM CTQMC"], "range": ["#9A2A1E", "#1A1AFF", "#000000", "#FF6A9A"]},
                           "legend": {"title": null, "orient": "top-right", "offset": 5, "fillColor": "#6EE2F8", "padding": 6, "symbolType": "stroke", "symbolSize": 196, "symbolStrokeWidth": 2.5, "labelFontSize": 15, "rowPadding": 3, "labelOffset": 8}},
                 "strokeDash": {"field": "s", "type": "nominal", "scale": {"domain": ["SDW ED", "SDW CTQMC", "PM ED", "PM CTQMC"], "range": [[4, 3], [4, 3], [1, 0], [1, 0]]},
                           "legend": {"title": null, "orient": "top-right", "offset": 5, "fillColor": "#6EE2F8", "padding": 6, "symbolType": "stroke", "symbolSize": 196, "symbolStrokeWidth": 2.5, "labelFontSize": 15, "rowPadding": 3, "labelOffset": 8}}}}
  ]
 }
]
}
